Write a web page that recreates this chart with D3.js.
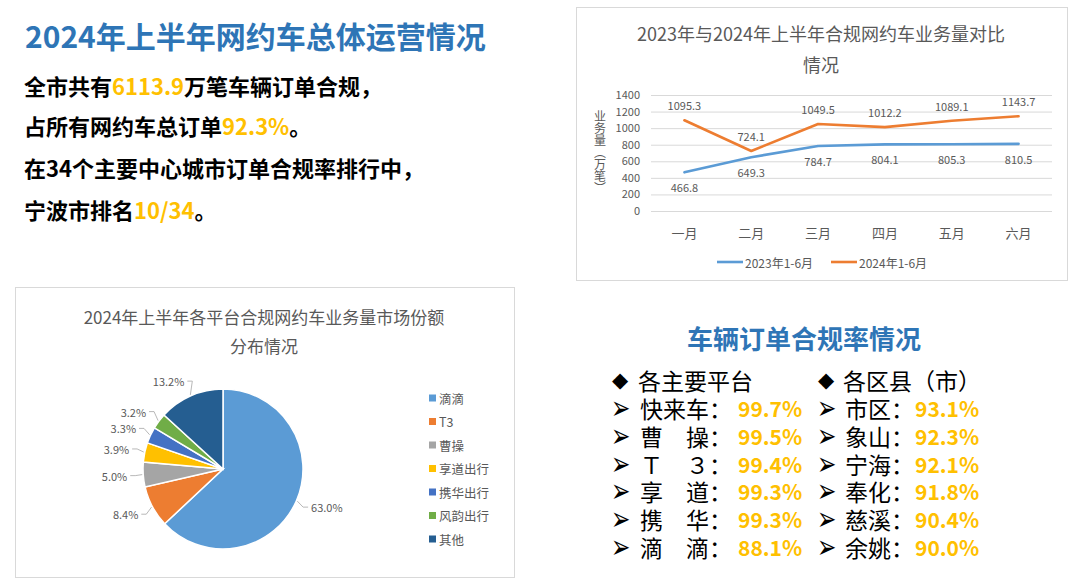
<!DOCTYPE html>
<html><head><meta charset="utf-8">
<script src="https://cdn.jsdelivr.net/npm/d3@7"></script>
<style>
body{margin:0;background:#fff;}
svg{display:block;font-family:"Noto Sans CJK SC","Noto Sans",sans-serif;}
</style></head><body>
<svg id="c" width="1080" height="585"></svg>
<script>
// ---------- data ----------
const months = ["一月","二月","三月","四月","五月","六月"];
const volume2023 = [466.8,649.3,784.7,804.1,805.3,810.5];
const volume2024 = [1095.3,724.1,1049.5,1012.2,1089.1,1143.7];
const yTicks = [0,200,400,600,800,1000,1200,1400];
const seriesNames = ["2023年1-6月","2024年1-6月"];
const yTitle = "业务量（万笔）";

const platforms = ["滴滴","T3","曹操","享道出行","携华出行","风韵出行","其他"];
const shares = [63.0,8.4,5.0,3.9,3.3,3.2,13.2];

const platformNames = ["快来车","曹　操","Ｔ　３","享　道","携　华","滴　滴"];
const platformRates = [99.7,99.5,99.4,99.3,99.3,88.1];
const districtNames = ["市区","象山","宁海","奉化","慈溪","余姚"];
const districtRates = [93.1,92.3,92.1,91.8,90.4,90.0];

const summaryLines = [
  [["全市共有",0],["6113.9",1],["万笔车辆订单合规，",0]],
  [["占所有网约车总订单",0],["92.3%",1],["。",0]],
  [["在34个主要中心城市订单合规率排行中，",0]],
  [["宁波市排名",0],["10/34",1],["。",0]]
];

// ---------- styles ----------
const BLUE_T = "#2E75B6", ORANGE = "#FFC000", GRAY = "#595959", GRID = "#D9D9D9";
const pieColors = ["#5B9BD5","#ED7D31","#A5A5A5","#FFC000","#4472C4","#70AD47","#255E91"];
const lineColors = ["#5B9BD5","#ED7D31"];

const svg = d3.select("#c");

// ---------- left summary ----------
svg.append("text").attr("x",25).attr("y",35).attr("dominant-baseline","central")
  .attr("font-size",30).attr("font-weight",700).attr("fill",BLUE_T)
  .text("2024年上半年网约车总体运营情况");

const lineY = [85,125,167,209];
summaryLines.forEach((parts,i)=>{
  const t = svg.append("text").attr("x",24).attr("y",lineY[i]).attr("dominant-baseline","central")
    .attr("font-size",22).attr("font-weight",700);
  parts.forEach(p=>t.append("tspan").attr("fill",p[1]?ORANGE:"#000").text(p[0]));
});

// ---------- line chart ----------
svg.append("rect").attr("x",576.5).attr("y",7.5).attr("width",491).attr("height",273)
  .attr("fill","#fff").attr("stroke",GRID);
svg.append("text").attr("x",821).attr("y",33).attr("text-anchor","middle").attr("dominant-baseline","central")
  .attr("font-size",18).attr("fill",GRAY).text("2023年与2024年上半年合规网约车业务量对比");
svg.append("text").attr("x",821).attr("y",64).attr("text-anchor","middle").attr("dominant-baseline","central")
  .attr("font-size",18).attr("fill",GRAY).text("情况");

const x = d3.scalePoint().domain(months).range([651,1052]).padding(0.5);
const y = d3.scaleLinear().domain([0,1400]).range([211,95]);

const gy = svg.append("g").attr("transform","translate(651,0)")
  .call(d3.axisLeft(y).tickValues(yTicks).tickSize(-401).tickPadding(11).tickFormat(d3.format("d")));
gy.select(".domain").remove();
gy.selectAll(".tick line").attr("stroke",GRID);
gy.selectAll(".tick text").attr("fill",GRAY).attr("font-size",11).attr("font-family","'Noto Sans CJK SC',sans-serif");

svg.append("g").selectAll("text").data(months).join("text")
  .attr("x",d=>x(d)).attr("y",232).attr("text-anchor","middle").attr("dominant-baseline","central")
  .attr("font-size",13).attr("fill",GRAY).text(d=>d);

// vertical axis title
svg.append("text").attr("x",600).attr("y",152).attr("text-anchor","middle")
  .attr("writing-mode","tb").style("writing-mode","vertical-rl")
  .attr("font-size",12).attr("fill",GRAY).text(yTitle);

const lineGen = d3.line().x((d,i)=>x(months[i])).y(d=>y(d));
[volume2023,volume2024].forEach((s,k)=>{
  svg.append("path").datum(s).attr("d",lineGen).attr("fill","none")
    .attr("stroke",lineColors[k]).attr("stroke-width",2.6).attr("stroke-linejoin","round").attr("stroke-linecap","round");
  svg.append("g").selectAll("text").data(s).join("text")
    .attr("x",(d,i)=>x(months[i])).attr("y",d=>y(d)+(k===0?15:-15))
    .attr("text-anchor","middle").attr("dominant-baseline","central")
    .attr("font-size",11).attr("fill",GRAY).text(d=>d.toFixed(1));
});

// legend
const lgX = [717,831];
seriesNames.forEach((n,k)=>{
  svg.append("line").attr("x1",lgX[k]).attr("x2",lgX[k]+26).attr("y1",262).attr("y2",262)
    .attr("stroke",lineColors[k]).attr("stroke-width",2.6);
  svg.append("text").attr("x",lgX[k]+28).attr("y",262).attr("dominant-baseline","central")
    .attr("font-size",12).attr("fill",GRAY).text(n);
});

// ---------- pie chart ----------
svg.append("rect").attr("x",15.5).attr("y",287.5).attr("width",499).attr("height",290)
  .attr("fill","#fff").attr("stroke",GRID);
svg.append("text").attr("x",264).attr("y",316).attr("text-anchor","middle").attr("dominant-baseline","central")
  .attr("font-size",17).attr("fill",GRAY).text("2024年上半年各平台合规网约车业务量市场份额");
svg.append("text").attr("x",264).attr("y",345).attr("text-anchor","middle").attr("dominant-baseline","central")
  .attr("font-size",17).attr("fill",GRAY).text("分布情况");

const cx = 223, cy = 469, R = 80;
const pie = d3.pie().sort(null).value(d=>d)(shares);
const arc = d3.arc().innerRadius(0).outerRadius(R);
const gp = svg.append("g").attr("transform",`translate(${cx},${cy})`);
gp.selectAll("path").data(pie).join("path").attr("d",arc)
  .attr("fill",(d,i)=>pieColors[i]).attr("stroke","#fff").attr("stroke-width",1.5);

pie.forEach((a,i)=>{
  const m = (a.startAngle+a.endAngle)/2;
  const sx = Math.sin(m), sy = -Math.cos(m);
  const lx = sx*R*1.2, ly = sy*R*1.2;
  const right = sx>0;
  const ex = sx*(R+1), ey = sy*(R+1);
  const hx = lx + (right?-3:3);
  const kx = lx + (right?-8:8);
  gp.append("polyline").attr("points",`${ex},${ey} ${kx},${ly} ${hx},${ly}`)
    .attr("fill","none").attr("stroke","#A6A6A6").attr("stroke-width",0.8);
  gp.append("text").attr("x",lx).attr("y",ly).attr("text-anchor",right?"start":"end")
    .attr("dominant-baseline","central").attr("font-size",11).attr("fill",GRAY)
    .text(shares[i].toFixed(1)+"%");
});

const legY = d3.scalePoint().domain(platforms).range([398,539]);
platforms.forEach((p,i)=>{
  svg.append("rect").attr("x",429).attr("y",legY(p)-3.5).attr("width",7).attr("height",7).attr("fill",pieColors[i]);
  svg.append("text").attr("x",439).attr("y",legY(p)).attr("dominant-baseline","central")
    .attr("font-size",12.5).attr("fill",GRAY).text(p);
});

// ---------- compliance rates ----------
svg.append("text").attr("x",804).attr("y",337).attr("text-anchor","middle").attr("dominant-baseline","central")
  .attr("font-size",26).attr("font-weight",700).attr("fill",BLUE_T).text("车辆订单合规率情况");

const rowY = d3.scaleLinear().domain([0,6]).range([380,547]);
function column(x0, header, names, rates, nameX, valX){
  svg.append("text").attr("x",x0).attr("y",rowY(0)).attr("dominant-baseline","central")
    .attr("font-size",21).attr("font-family","'DejaVu Sans',sans-serif").text("◆");
  svg.append("text").attr("x",nameX-2).attr("y",rowY(0)).attr("dominant-baseline","central")
    .attr("font-size",23).attr("fill","#000").text(header);
  names.forEach((n,i)=>{
    const yy = rowY(i+1);
    svg.append("text").attr("transform",`translate(${x0-1},${yy}) scale(1.05,1.5)`)
      .attr("dominant-baseline","central")
      .attr("font-size",22).attr("font-family","'DejaVu Sans',sans-serif").text("➢");
    svg.append("text").attr("x",nameX).attr("y",yy).attr("dominant-baseline","central")
      .attr("font-size",23).attr("fill","#000").text(n+"：");
    svg.append("text").attr("x",valX).attr("y",yy).attr("dominant-baseline","central")
      .attr("font-size",21).attr("font-weight",700).attr("fill",ORANGE).text(rates[i].toFixed(1)+"%");
  });
}
column(612,"各主要平台",platformNames,platformRates,640,738);
column(818,"各区县（市）",districtNames,districtRates,845,915);
</script>
</body></html>
